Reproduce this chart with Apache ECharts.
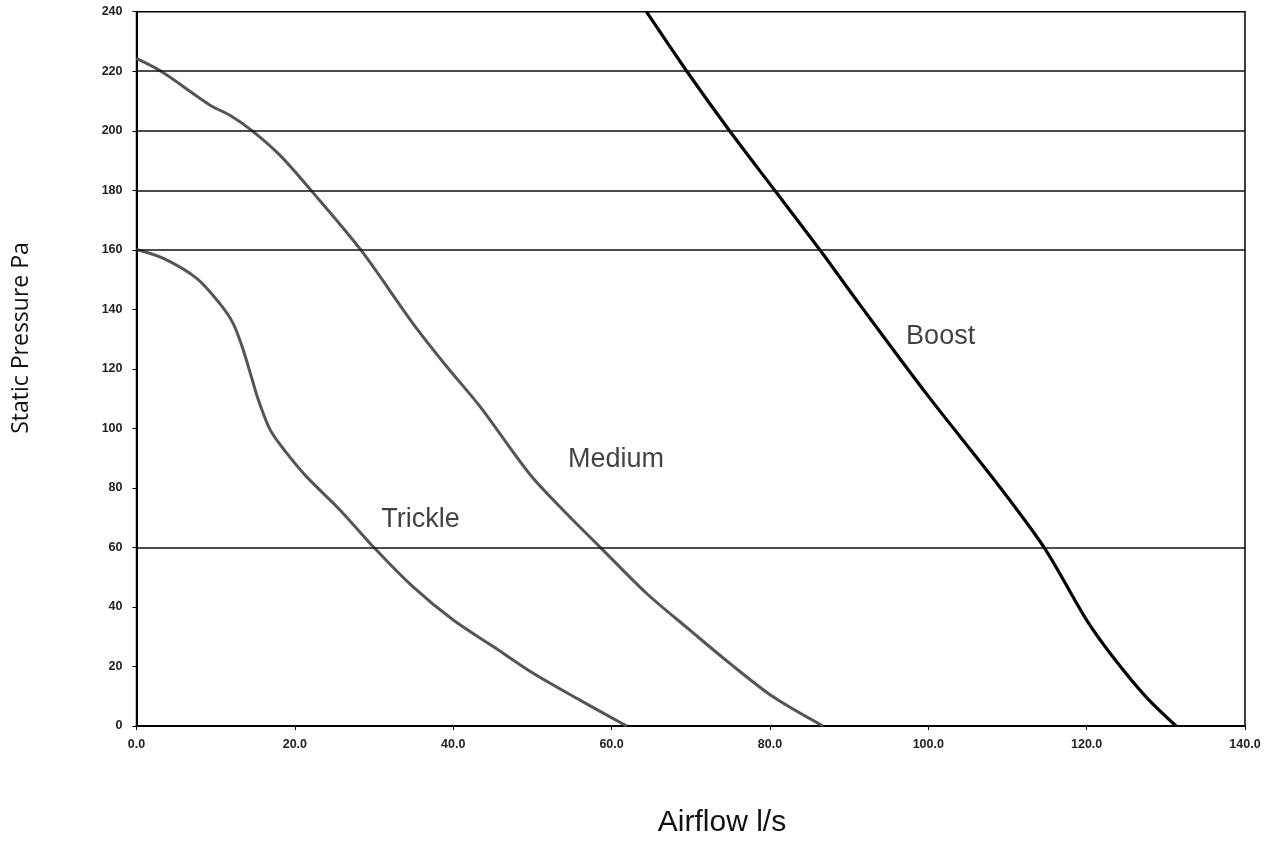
<!DOCTYPE html>
<html>
<head>
<meta charset="utf-8">
<script src="https://cdn.jsdelivr.net/npm/echarts@6/dist/echarts.min.js"></script>
<style>
html,body{margin:0;padding:0;background:#fff;}
#chart{width:1283px;height:841px;}
</style>
</head>
<body>
<div id="chart"></div>
<script>
const trickle = [[0,160.1],[3.4,157.1],[7.6,150.4],[10.5,142],[12.2,135.3],[13.4,127],[14.6,116.5],[15.4,109.5],[16.9,99.4],[19,91.6],[21.5,83.7],[25.7,72.6],[29.9,60.2],[34.9,46.8],[40,35.6],[45.1,26.6],[50.1,17.7],[56,8.7],[61.9,0]];
const medium = [[0,224.3],[3.2,219.8],[9.3,208.6],[11.8,205.2],[14.5,200.2],[18.1,191.8],[22.1,179.8],[28.4,159.7],[34.9,135.3],[39.2,120.7],[43.4,107.3],[49.7,84.5],[54.3,71.4],[58.7,59.7],[64.4,44.6],[69.9,32.2],[74.9,21.1],[80.4,9.8],[86.7,0]];
const boost = [[64.4,240],[69.5,220],[74.9,200],[80.6,180],[86.3,160],[91.4,141.4],[99.8,111.5],[109,80.4],[114.7,59.7],[120,35.6],[123.3,23.3],[127.5,9.8],[131.3,0]];
const curveNames = ['Trickle','Medium','Boost'];
const gridValues = [220,200,180,160,60];
const xTicks = [0,20,40,60,80,100,120,140];
const yTicks = [0,20,40,60,80,100,120,140,160,180,200,220,240];
const xTitle = 'Airflow l/s';
const yTitle = 'Static Pressure Pa';

const labelAnchors = {Trickle:[30.9,69.5], Medium:[54.5,89.4], Boost:[97.2,130.7]};

const chart = echarts.init(document.getElementById('chart'), null, {renderer:'canvas'});
const tickFont = {fontFamily:'Liberation Sans, Arial, sans-serif', fontSize:12.5, fontWeight:'bold', color:'#222'};
const lblFont = {fontFamily:'Liberation Sans, Arial, sans-serif', fontSize:27, color:'#111'};

function curve(name, data, color, width){
  return {
    name, type:'line', data, showSymbol:false, smooth:0.3, silent:true,
    lineStyle:{color, width}, z:3, animation:false
  };
}
function labelSeries(name){
  return {
    type:'scatter', data:[labelAnchors[name]], symbolSize:0, silent:true, animation:false,
    label:{show:true, position:'right', distance:0, formatter:name, ...lblFont}
  };
}

chart.setOption({
  backgroundColor:'#fff',
  animation:false,
  grid:{left:136.5, right:38, top:11.7, bottom:115, show:true, borderColor:'#000', borderWidth:1.5},
  xAxis:{
    type:'value', min:xTicks[0], max:xTicks[xTicks.length-1], interval:20,
    axisLine:{show:true, onZero:false, lineStyle:{color:'#000', width:2}},
    axisTick:{show:true, length:4, lineStyle:{color:'#000'}},
    axisLabel:{...tickFont, margin:12, formatter:v=>v.toFixed(1)},
    splitLine:{show:false}
  },
  yAxis:{
    type:'value', min:yTicks[0], max:yTicks[yTicks.length-1], interval:20,
    axisLine:{show:true, onZero:false, lineStyle:{color:'#000', width:2}},
    axisTick:{show:true, length:4, lineStyle:{color:'#000'}},
    axisLabel:{...tickFont, margin:14, formatter:v=>String(v)},
    splitLine:{show:false}
  },
  graphic:[
    {type:'text', x:722, y:823, style:{text:xTitle, font:'30px "Liberation Sans", Arial, sans-serif', fill:'#111', textAlign:'center', textVerticalAlign:'middle'}},
    {type:'text', x:21, y:338, rotation:Math.PI/2, style:{text:yTitle, font:'23px "Open Sans", sans-serif', fill:'#111', textAlign:'center', textVerticalAlign:'middle'}}
  ],
  series:[
    {
      type:'line', data:[], silent:true, animation:false,
      markLine:{silent:true, symbol:'none', animation:false, label:{show:false},
        lineStyle:{color:'#111', width:1.5, type:'solid'},
        data:gridValues.map(v=>({yAxis:v}))}
    },
    curve(curveNames[0], trickle, '#555', 3),
    curve(curveNames[1], medium, '#555', 3),
    curve(curveNames[2], boost, '#000', 3.2),
    ...curveNames.map(labelSeries)
  ]
});
</script>
</body>
</html>
